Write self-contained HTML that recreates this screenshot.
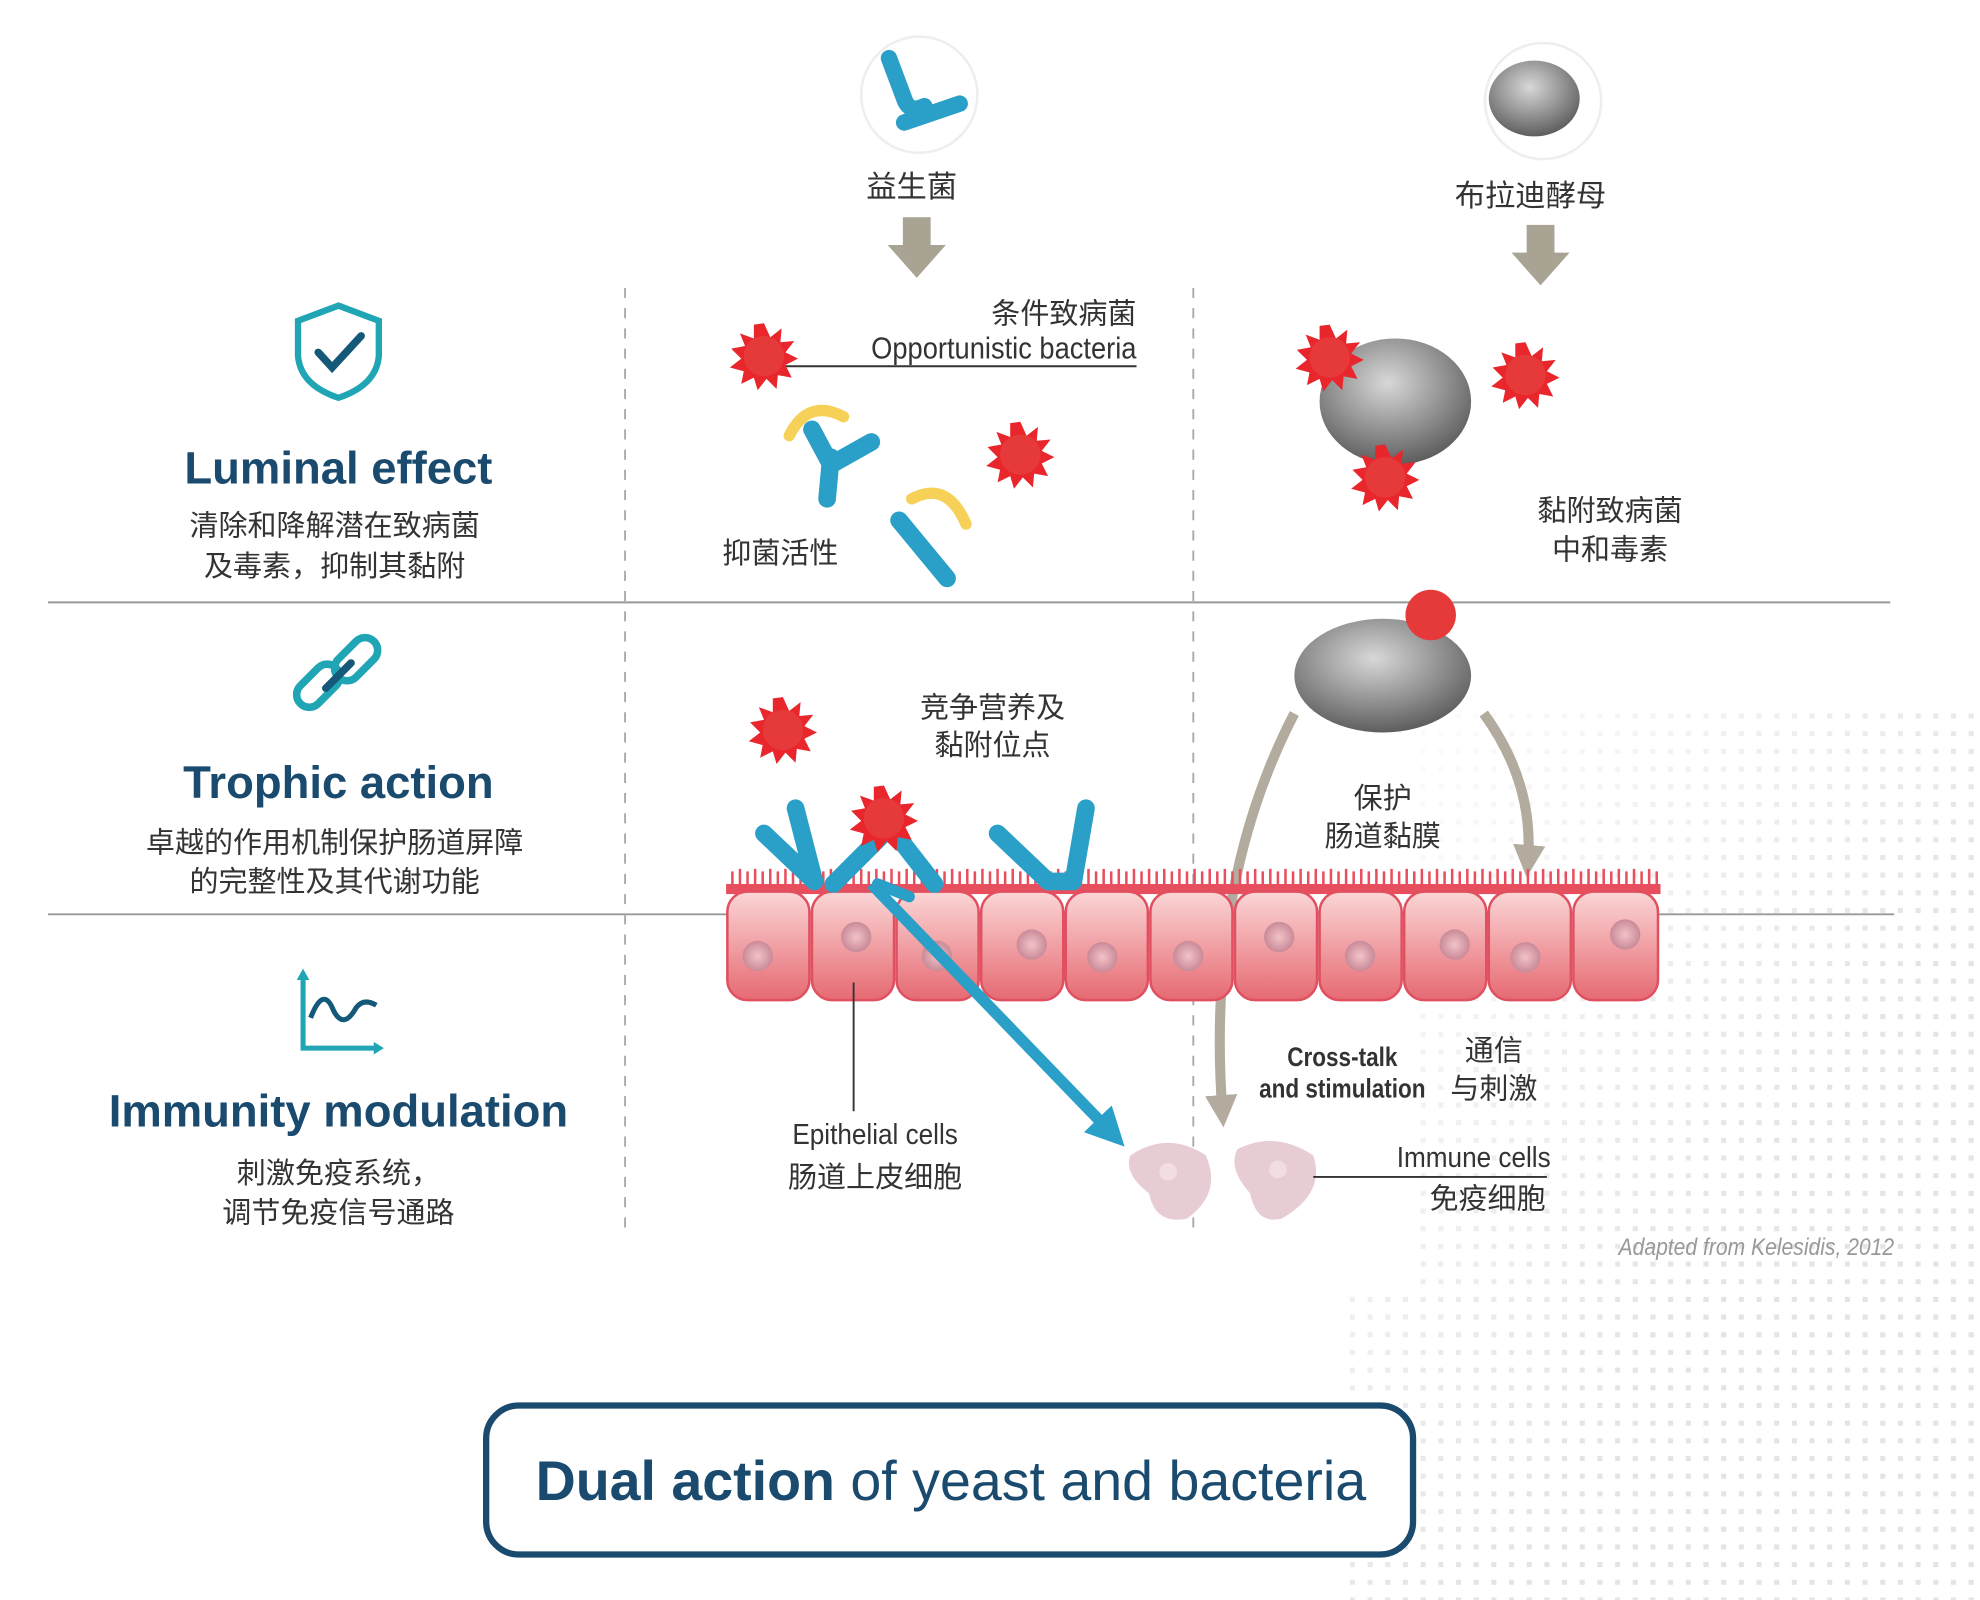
<!DOCTYPE html>
<html><head><meta charset="utf-8"><style>
html,body{margin:0;padding:0;background:#fff;width:1980px;height:1600px;overflow:hidden}
svg{display:block}
text{font-family:"Liberation Sans","Noto Sans CJK SC",sans-serif}
</style></head><body>
<svg width="1980" height="1600" viewBox="0 0 1568 1267" xmlns="http://www.w3.org/2000/svg">
<defs>
<pattern id="dots" width="14" height="14" patternUnits="userSpaceOnUse"><rect x="5" y="5" width="4" height="4" fill="#e4e4e4"/></pattern>
<linearGradient id="fade" x1="0" y1="0" x2="1" y2="1"><stop offset="0" stop-color="#fff" stop-opacity="1"/><stop offset="0.6" stop-color="#fff" stop-opacity="0"/></linearGradient>
<radialGradient id="yeast" cx="0.45" cy="0.35" r="0.7"><stop offset="0" stop-color="#d8d8d8"/><stop offset="0.6" stop-color="#8a8a8a"/><stop offset="1" stop-color="#555"/></radialGradient>
<linearGradient id="cell" x1="0" y1="0" x2="0" y2="1"><stop offset="0" stop-color="#fbd6d6"/><stop offset="1" stop-color="#e66a72"/></linearGradient>
<radialGradient id="nuc" cx="0.5" cy="0.5" r="0.5"><stop offset="0" stop-color="#f3c3c8"/><stop offset="1" stop-color="#c98a98"/></radialGradient>
<g id="bac">
<polygon points="0,-26 5,-15 14,-22 13,-11 24,-12 17,-3 27,2 17,7 22,17 11,15 10,26 2,18 -5,27 -8,17 -18,22 -16,12 -27,9 -18,2 -26,-6 -15,-8 -19,-18 -8,-14 -8,-25" fill="#e8262b"/>
<circle r="16" fill="#e63a3a"/>
</g>
<marker id="ah" markerWidth="3.2" markerHeight="3.2" refX="1.6" refY="1.6" orient="auto"><path d="M0,0 L3.2,1.6 L0,3.2 z" fill="#b2ab9e"/></marker>
<marker id="bh" markerWidth="3.4" markerHeight="3.4" refX="1.7" refY="1.7" orient="auto"><path d="M0,0 L3.4,1.7 L0,3.4 z" fill="#2a9fc7"/></marker>
</defs>
<rect x="1060" y="560" width="508" height="707" fill="url(#dots)"/>
<rect x="1060" y="560" width="508" height="707" fill="url(#fade)"/>
<rect x="383" y="560" width="740" height="460" fill="#fff"/>

<line x1="38" y1="477" x2="1497" y2="477" stroke="#999" stroke-width="1.5"/>
<line x1="38" y1="724" x2="1500" y2="724" stroke="#999" stroke-width="1.5"/>
<line x1="495" y1="228" x2="495" y2="975" stroke="#aaa" stroke-width="1.5" stroke-dasharray="8,8"/>
<line x1="945" y1="228" x2="945" y2="975" stroke="#aaa" stroke-width="1.5" stroke-dasharray="8,8"/>

<path d="M268,242 L300,254 L300,282 Q298,305 268,315 Q238,305 236,282 L236,254 Z" fill="none" stroke="#1fa5b4" stroke-width="5"/>
<path d="M252,279 L263,291 L286,266" fill="none" stroke="#14587a" stroke-width="6" stroke-linecap="round"/>
<g fill="none" stroke-width="6" stroke-linecap="round">
<rect x="232" y="533" width="40" height="20" rx="10" transform="rotate(-45 252 543)" stroke="#1fa5b4"/>
<rect x="262" y="512" width="40" height="20" rx="10" transform="rotate(-45 282 522)" stroke="#1fa5b4"/>
<line x1="258" y1="545" x2="278" y2="525" stroke="#14587a"/>
</g>
<g fill="none" stroke="#1fa5b4" stroke-width="4">
<polyline points="240,772 240,830 300,830"/>
<path d="M246,806 Q256,780 264,800 Q272,816 282,798 Q288,790 298,796" stroke="#14587a"/>
</g>
<path d="M235,776 L240,767 L245,776Z M296,825 L304,830 L296,835Z" fill="#1fa5b4"/>

<g fill="#1a4a6e" font-weight="bold" text-anchor="middle" font-size="36">
<text x="268" y="383">Luminal effect</text>
<text x="268" y="632">Trophic action</text>
<text x="268" y="892">Immunity modulation</text>
</g>
<g fill="#333" text-anchor="middle" font-size="23">
<text x="265" y="424">清除和降解潜在致病菌</text>
<text x="265" y="456">及毒素，抑制其黏附</text>
<text x="265" y="675">卓越的作用机制保护肠道屏障</text>
<text x="265" y="706">的完整性及其代谢功能</text>
<text x="268" y="937">刺激免疫系统，</text>
<text x="268" y="968">调节免疫信号通路</text>
</g>

<circle cx="728" cy="75" r="46" fill="#fff" stroke="#eee" stroke-width="2"/>
<path d="M704,46 L716,78 Q720,90 732,84" fill="none" stroke="#2a9fc7" stroke-width="13" stroke-linecap="round"/>
<path d="M716,97 L760,82" stroke="#2a9fc7" stroke-width="13" stroke-linecap="round"/>
<circle cx="1222" cy="80" r="46" fill="#fff" stroke="#eee" stroke-width="2"/>
<ellipse cx="1215" cy="78" rx="36" ry="30" fill="url(#yeast)"/>
<g fill="#333" text-anchor="middle" font-size="24">
<text x="722" y="156">益生菌</text>
<text x="1212" y="163">布拉迪酵母</text>
</g>
<path d="M715,172 h22 v22 h12 l-23,26 l-23,-26 h12z" fill="#a9a394"/>
<path d="M1209,178 h22 v22 h12 l-23,26 l-23,-26 h12z" fill="#a9a394"/>

<g fill="#333" font-size="23" text-anchor="end">
<text x="900" y="256">条件致病菌</text>
<text x="900" y="284" font-size="24" transform="scale(0.9 1)" transform-origin="900 284">Opportunistic bacteria</text>
</g>
<line x1="620" y1="290" x2="900" y2="290" stroke="#333" stroke-width="1.5"/>
<use href="#bac" x="605" y="282"/>
<use href="#bac" x="808" y="360"/>
<path d="M625,345 Q640,315 668,330" fill="none" stroke="#f5c83a" stroke-width="9" stroke-linecap="round" opacity="0.85"/>
<path d="M655,395 L658,362 M658,368 L690,350 M658,368 L643,340" stroke="#2a9fc7" stroke-width="14" stroke-linecap="round"/>
<path d="M722,395 Q750,380 765,415" fill="none" stroke="#f5c83a" stroke-width="9" stroke-linecap="round" opacity="0.85"/>
<path d="M712,412 L750,458" stroke="#2a9fc7" stroke-width="14" stroke-linecap="round"/>
<text x="618" y="446" fill="#333" font-size="23" text-anchor="middle">抑菌活性</text>

<ellipse cx="1105" cy="318" rx="60" ry="50" fill="url(#yeast)"/>
<use href="#bac" x="1053" y="283"/>
<use href="#bac" x="1208" y="297"/>
<use href="#bac" x="1097" y="378"/>
<g fill="#333" text-anchor="middle" font-size="23">
<text x="1275" y="412">黏附致病菌</text>
<text x="1275" y="443">中和毒素</text>
</g>

<path d="M1025,565 Q955,700 968,880" fill="none" stroke="#b2ab9e" stroke-width="8" marker-end="url(#ah)"/>
<path d="M1175,565 Q1215,620 1210,682" fill="none" stroke="#b2ab9e" stroke-width="8" marker-end="url(#ah)"/>
<ellipse cx="1095" cy="535" rx="70" ry="45" fill="url(#yeast)"/>
<circle cx="1133" cy="487" r="20" fill="#e63a3a"/>
<g fill="#333" text-anchor="middle" font-size="23">
<text x="1095" y="640">保护</text>
<text x="1095" y="670">肠道黏膜</text>
<text x="786" y="568">竞争营养及</text>
<text x="786" y="598">黏附位点</text>
</g>
<use href="#bac" x="620" y="578"/>

<g>
<rect x="575" y="700" width="740" height="8" fill="#e84f5e"/>
<g stroke="#e84f5e" stroke-width="2">
<path d="M580,700 v-10 M586,700 v-12 M592,700 v-10 M598,700 v-12 M604,700 v-10 M610,700 v-12 M616,700 v-10 M622,700 v-12 M628,700 v-10 M634,700 v-12 M640,700 v-10 M646,700 v-12 M652,700 v-10 M658,700 v-12 M664,700 v-10 M670,700 v-12 M676,700 v-10 M682,700 v-12 M688,700 v-10 M694,700 v-12 M700,700 v-10 M706,700 v-12 M712,700 v-10 M718,700 v-12 M724,700 v-10 M730,700 v-12 M736,700 v-10 M742,700 v-12 M748,700 v-10 M754,700 v-12 M760,700 v-10 M766,700 v-12 M772,700 v-10 M778,700 v-12 M784,700 v-10 M790,700 v-12 M796,700 v-10 M802,700 v-12 M808,700 v-10 M814,700 v-12 M820,700 v-10 M826,700 v-12 M832,700 v-10 M838,700 v-12 M844,700 v-10 M850,700 v-12 M856,700 v-10 M862,700 v-12 M868,700 v-10 M874,700 v-12 M880,700 v-10 M886,700 v-12 M892,700 v-10 M898,700 v-12 M904,700 v-10 M910,700 v-12 M916,700 v-10 M922,700 v-12 M928,700 v-10 M934,700 v-12 M940,700 v-10 M946,700 v-12 M952,700 v-10 M958,700 v-12 M964,700 v-10 M970,700 v-12 M976,700 v-10 M982,700 v-12 M988,700 v-10 M994,700 v-12 M1000,700 v-10 M1006,700 v-12 M1012,700 v-10 M1018,700 v-12 M1024,700 v-10 M1030,700 v-12 M1036,700 v-10 M1042,700 v-12 M1048,700 v-10 M1054,700 v-12 M1060,700 v-10 M1066,700 v-12 M1072,700 v-10 M1078,700 v-12 M1084,700 v-10 M1090,700 v-12 M1096,700 v-10 M1102,700 v-12 M1108,700 v-10 M1114,700 v-12 M1120,700 v-10 M1126,700 v-12 M1132,700 v-10 M1138,700 v-12 M1144,700 v-10 M1150,700 v-12 M1156,700 v-10 M1162,700 v-12 M1168,700 v-10 M1174,700 v-12 M1180,700 v-10 M1186,700 v-12 M1192,700 v-10 M1198,700 v-12 M1204,700 v-10 M1210,700 v-12 M1216,700 v-10 M1222,700 v-12 M1228,700 v-10 M1234,700 v-12 M1240,700 v-10 M1246,700 v-12 M1252,700 v-10 M1258,700 v-12 M1264,700 v-10 M1270,700 v-12 M1276,700 v-10 M1282,700 v-12 M1288,700 v-10 M1294,700 v-12 M1300,700 v-10 M1306,700 v-12 M1312,700 v-10"/>
</g>
<g stroke="#e05060" stroke-width="2" fill="url(#cell)">
<rect x="576" y="706" width="65" height="86" rx="16"/>
<rect x="643" y="706" width="65" height="86" rx="16"/>
<rect x="710" y="706" width="65" height="86" rx="16"/>
<rect x="777" y="706" width="65" height="86" rx="16"/>
<rect x="844" y="706" width="65" height="86" rx="16"/>
<rect x="911" y="706" width="65" height="86" rx="16"/>
<rect x="978" y="706" width="65" height="86" rx="16"/>
<rect x="1045" y="706" width="65" height="86" rx="16"/>
<rect x="1112" y="706" width="65" height="86" rx="16"/>
<rect x="1179" y="706" width="65" height="86" rx="16"/>
<rect x="1246" y="706" width="67" height="86" rx="16"/>
</g>
<g fill="url(#nuc)">
<circle cx="600" cy="757" r="12"/><circle cx="678" cy="742" r="12"/><circle cx="742" cy="757" r="12"/><circle cx="817" cy="748" r="12"/><circle cx="873" cy="758" r="12"/><circle cx="941" cy="757" r="12"/><circle cx="1013" cy="742" r="12"/><circle cx="1077" cy="757" r="12"/><circle cx="1152" cy="748" r="12"/><circle cx="1208" cy="758" r="12"/><circle cx="1287" cy="740" r="12"/>
</g>
</g>
<g stroke="#2a9fc7" stroke-width="14" stroke-linecap="round" fill="none">
<path d="M605,660 L645,698 M630,640 L645,698"/>
<path d="M660,700 L705,655 L740,700"/>
<path d="M790,660 L830,698 M860,640 L850,698 M830,698 L850,698"/>
</g>
<use href="#bac" x="700" y="648"/>
<path d="M690,700 L880,897" stroke="#2a9fc7" stroke-width="9" marker-end="url(#bh)"/>
<path d="M720,710 L695,700" stroke="#2a9fc7" stroke-width="9" stroke-linecap="round"/>

<path d="M895,915 Q925,895 955,915 Q968,945 940,965 Q915,970 910,945 Q890,930 895,915Z" fill="#e8ccd4"/>
<path d="M980,910 Q1010,895 1040,915 Q1050,945 1015,965 Q995,970 990,945 Q972,925 980,910Z" fill="#e8ccd4"/>
<circle cx="925" cy="928" r="7" fill="#f2dde3"/><circle cx="1012" cy="926" r="7" fill="#f2dde3"/>

<line x1="676" y1="778" x2="676" y2="880" stroke="#333" stroke-width="1.5"/>
<g fill="#333" text-anchor="middle" font-size="23">
<text x="693" y="906" transform="scale(0.9 1)" transform-origin="693 906">Epithelial cells</text>
<text x="693" y="940">肠道上皮细胞</text>
<text x="1063" y="844" font-weight="bold" font-size="21" transform="scale(0.85 1)" transform-origin="1063 844">Cross-talk</text>
<text x="1063" y="869" font-weight="bold" font-size="21" transform="scale(0.85 1)" transform-origin="1063 869">and stimulation</text>
<text x="1183" y="840">通信</text>
<text x="1183" y="870">与刺激</text>
</g>
<line x1="1040" y1="932" x2="1225" y2="932" stroke="#333" stroke-width="1.5"/>
<g fill="#333" text-anchor="end" font-size="23">
<text x="1228" y="924" transform="scale(0.9 1)" transform-origin="1228 924">Immune cells</text>
<text x="1224" y="957">免疫细胞</text>
</g>
<text x="1500" y="994" fill="#999" font-size="19" font-style="italic" text-anchor="end" transform="scale(0.88 1)" transform-origin="1500 994">Adapted from Kelesidis, 2012</text>

<rect x="385" y="1113" width="734" height="118" rx="26" fill="#fff" stroke="#1a4a6e" stroke-width="5"/>
<text x="753" y="1188" text-anchor="middle" font-size="44" fill="#1a4a6e"><tspan font-weight="bold">Dual action</tspan> of yeast and bacteria</text>
</svg>
</body></html>
